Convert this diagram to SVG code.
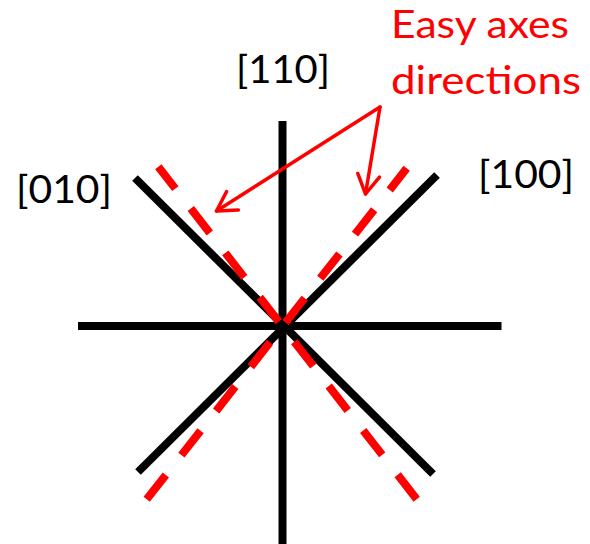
<svg xmlns="http://www.w3.org/2000/svg" width="590" height="544" viewBox="0 0 590 544">
  <style>
    .ax { stroke: #000; stroke-width: 8; stroke-linecap: butt; fill: none; }
    .easy { stroke: #ff0000; stroke-width: 8; stroke-linecap: butt; stroke-dasharray: 31 25.2; fill: none; }
    .arrow { stroke: #ff0000; stroke-width: 3.5; stroke-linecap: round; fill: none; marker-end: url(#head); }
    .lbl { font-family: Lato, "Liberation Sans", sans-serif; font-size: 39px; fill: #000; }
    .red { fill: #ff0000; }
  </style>
  <defs>
    <marker id="head" markerUnits="userSpaceOnUse" markerWidth="30" markerHeight="30" viewBox="-24 -15 30 30" refX="0" refY="0" orient="auto">
      <path d="M -19 -11 L 0 0 L -19 11" fill="none" stroke="#ff0000" stroke-width="3.5" stroke-linecap="round" stroke-linejoin="round"/>
    </marker>
  </defs>
  <rect width="590" height="544" fill="#fff"/>
  <g id="axes">
    <line class="ax" x1="282.5" y1="121" x2="282.5" y2="544"/>
    <line class="ax" x1="78" y1="326" x2="501.5" y2="326"/>
    <line class="ax" x1="135" y1="178" x2="433" y2="474"/>
    <line class="ax" x1="437" y1="175" x2="138" y2="472"/>
  </g>
  <g id="easy-axes">
    <line class="easy" x1="146.7" y1="499.3" x2="406.7" y2="168.3"/>
    <line class="easy" x1="416.7" y1="499.3" x2="158.3" y2="166.7"/>
  </g>
  <g id="label-110"><text class="lbl" x="236" y="83" textLength="94" lengthAdjust="spacingAndGlyphs">[110]</text></g>
  <g id="label-100"><text class="lbl" x="478" y="188" textLength="96" lengthAdjust="spacingAndGlyphs">[100]</text></g>
  <g id="label-010"><text class="lbl" x="16" y="203" textLength="96" lengthAdjust="spacingAndGlyphs">[010]</text></g>
  <g id="label-easy">
    <text class="lbl red" x="391" y="38" textLength="178" lengthAdjust="spacingAndGlyphs">Easy axes</text>
    <text class="lbl red" x="391" y="94" textLength="190" lengthAdjust="spacingAndGlyphs">directions</text>
  </g>
  <g id="connectors">
    <line class="arrow" x1="380" y1="107" x2="216.5" y2="211"/>
    <line class="arrow" x1="380" y1="107" x2="365.5" y2="194"/>
  </g>
</svg>
